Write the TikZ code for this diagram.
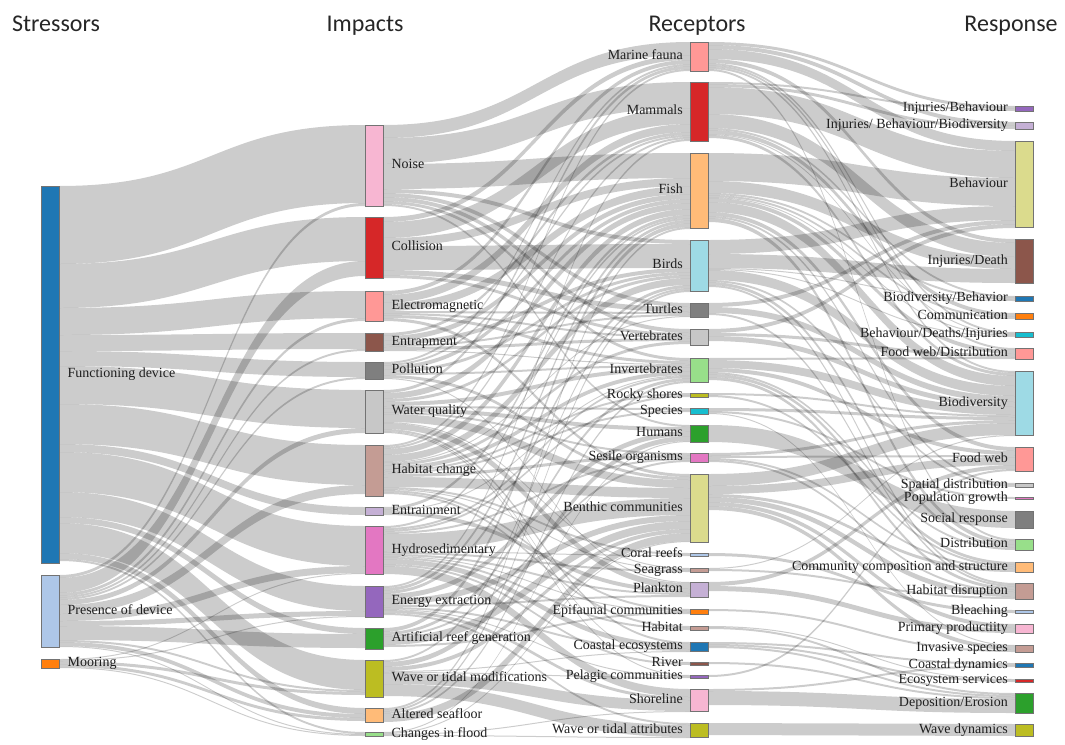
\documentclass[tikz,border=0pt]{standalone}
\usepackage{fontspec}
\setmainfont{Liberation Serif}
\newfontfamily\headfont{Carlito}
\pgfdeclarelayer{bg}
\pgfsetlayers{bg,main}
% category20 palette
\definecolor{cBlue}{HTML}{1F77B4}
\definecolor{cBlueL}{HTML}{AEC7E8}
\definecolor{cOrange}{HTML}{FF7F0E}
\definecolor{cOrangeL}{HTML}{FFBB78}
\definecolor{cGreen}{HTML}{2CA02C}
\definecolor{cGreenL}{HTML}{98DF8A}
\definecolor{cRed}{HTML}{D62728}
\definecolor{cRedL}{HTML}{FF9896}
\definecolor{cPurple}{HTML}{9467BD}
\definecolor{cPurpleL}{HTML}{C5B0D5}
\definecolor{cBrown}{HTML}{8C564B}
\definecolor{cBrownL}{HTML}{C49C94}
\definecolor{cPink}{HTML}{E377C2}
\definecolor{cPinkL}{HTML}{F7B6D2}
\definecolor{cGray}{HTML}{7F7F7F}
\definecolor{cGrayL}{HTML}{C7C7C7}
\definecolor{cOlive}{HTML}{BCBD22}
\definecolor{cOliveL}{HTML}{DBDB8D}
\definecolor{cCyan}{HTML}{17BECF}
\definecolor{cCyanL}{HTML}{9EDAE5}
\tikzset{
  box/.style={draw=black!55, line width=0.4pt, fill=#1, minimum width=18pt,
    inner sep=0pt, anchor=north west},
  lab/.style={font=\fontsize{14}{16}\selectfont, text=black!88, inner sep=0pt,
    text height=0.75em, text depth=0.1em},
  rlab/.style={label={[lab, xshift=8pt]right:#1}},
  llab/.style={label={[lab, xshift=-7pt]left:#1}},
  head/.style={font=\headfont\fontsize{24}{28}\selectfont, text=black!85, anchor=base},
  link/.style={fill=black, fill opacity=0.2},
}
% band from #1 to #2, #3 px wide, stacked on both ends
\newcommand\flow[3]{%
  \ifcsname so@#1\endcsname\else\expandafter\xdef\csname so@#1\endcsname{0}\fi
  \ifcsname si@#2\endcsname\else\expandafter\xdef\csname si@#2\endcsname{0}\fi
  \edef\fa{\csname so@#1\endcsname}\edef\fb{\csname si@#2\endcsname}%
  \pgfmathsetmacro\fc{\fa+#3}\pgfmathsetmacro\fd{\fb+#3}%
  \fill[link] ([yshift=-\fa pt]#1.north east)
    .. controls +(153pt,0) and +(-153pt,0) .. ([yshift=-\fb pt]#2.north west)
    -- ([yshift=-\fd pt]#2.north west)
    .. controls +(-153pt,0) and +(153pt,0) .. ([yshift=-\fc pt]#1.north east) -- cycle;
  \expandafter\xdef\csname so@#1\endcsname{\fc}%
  \expandafter\xdef\csname si@#2\endcsname{\fd}%
}
\begin{document}
\begin{tikzpicture}[x=1pt, y=-1pt]
\useasboundingbox (0,0) rectangle (1065,744);
% column heads
\node[head] (hS) at (56,31) {Stressors};
\node[head] (hI) at (365,31) {Impacts};
\node[head] (hR) at (697,31) {Receptors};
\node[head] (hP) at (1011,31) {Response};
% stressors
\node[box=cBlue, minimum height=377pt, rlab=Functioning device] (FD) at (41,186) {};
\node[box=cBlueL, minimum height=72pt, rlab=Presence of device] (PD) at (41,575) {};
\node[box=cOrange, minimum height=9pt, rlab=Mooring] (Moor) at (41,659) {};
% impacts
\node[box=cPinkL, minimum height=81pt, rlab=Noise] (Noise) at (365,125) {};
\node[box=cRed, minimum height=61pt, rlab=Collision] (Coll) at (365,217) {};
\node[box=cRedL, minimum height=30pt, rlab=Electromagnetic] (EM) at (365,291) {};
\node[box=cBrown, minimum height=18pt, rlab=Entrapment] (Entrap) at (365,333) {};
\node[box=cGray, minimum height=17pt, rlab=Pollution] (Poll) at (365,362) {};
\node[box=cGrayL, minimum height=43pt, rlab=Water quality] (WQ) at (365,390) {};
\node[box=cBrownL, minimum height=51pt, rlab=Habitat change] (HC) at (365,445) {};
\node[box=cPurpleL, minimum height=8pt, rlab=Entrainment] (Entrain) at (365,507) {};
\node[box=cPink, minimum height=48pt, rlab=Hydrosedimentary] (Hydro) at (365,526) {};
\node[box=cPurple, minimum height=31pt, rlab=Energy extraction] (Energy) at (365,586) {};
\node[box=cGreen, minimum height=21pt, rlab=Artificial reef generation] (Reef) at (365,628) {};
\node[box=cOlive, minimum height=37pt, rlab=Wave or tidal modifications] (WMod) at (365,660) {};
\node[box=cOrangeL, minimum height=14pt, rlab=Altered seafloor] (Seafl) at (365,708) {};
\node[box=cGreenL, minimum height=4pt, rlab=Changes in flood] (Flood) at (365,732) {};
% receptors
\node[box=cRedL, minimum height=29pt, llab=Marine fauna] (MF) at (690,42) {};
\node[box=cRed, minimum height=59pt, llab=Mammals] (Mam) at (690,82) {};
\node[box=cOrangeL, minimum height=75pt, llab=Fish] (Fish) at (690,153) {};
\node[box=cCyanL, minimum height=51pt, llab=Birds] (Birds) at (690,240) {};
\node[box=cGray, minimum height=14pt, llab=Turtles] (Turt) at (690,303) {};
\node[box=cGrayL, minimum height=16pt, llab=Vertebrates] (Vert) at (690,329) {};
\node[box=cGreenL, minimum height=24pt, llab=Invertebrates] (Inv) at (690,358) {};
\node[box=cOlive, minimum height=4pt, llab=Rocky shores] (Rocky) at (690,393) {};
\node[box=cCyan, minimum height=6pt, llab=Species] (Spec) at (690,408) {};
\node[box=cGreen, minimum height=17pt, llab=Humans] (Hum) at (690,425) {};
\node[box=cPink, minimum height=9pt, llab=Sesile organisms] (Ses) at (690,453) {};
\node[box=cOliveL, minimum height=68pt, llab=Benthic communities] (Benth) at (690,474) {};
\node[box=cBlueL, minimum height=3pt, llab=Coral reefs] (Coral) at (690,553) {};
\node[box=cBrownL, minimum height=4pt, llab=Seagrass] (Seag) at (690,568) {};
\node[box=cPurpleL, minimum height=15pt, llab=Plankton] (Plank) at (690,582) {};
\node[box=cOrange, minimum height=5pt, llab=Epifaunal communities] (Epif) at (690,609) {};
\node[box=cBrownL, minimum height=4pt, llab=Habitat] (Hab) at (690,626) {};
\node[box=cBlue, minimum height=9pt, llab=Coastal ecosystems] (CEco) at (690,642) {};
\node[box=cBrown, minimum height=3pt, llab=River] (River) at (690,662) {};
\node[box=cPurple, minimum height=3pt, llab=Pelagic communities] (Pel) at (690,675) {};
\node[box=cPinkL, minimum height=22pt, llab=Shoreline] (Shore) at (690,689) {};
\node[box=cOlive, minimum height=14pt, llab=Wave or tidal attributes] (WAttr) at (690,723) {};
% responses
\node[box=cPurple, minimum height=5pt, llab=Injuries/Behaviour] (IB) at (1015,106) {};
\node[box=cPurpleL, minimum height=7pt, llab=Injuries/ Behaviour/Biodiversity] (IBB) at (1015,122) {};
\node[box=cOliveL, minimum height=86pt, llab=Behaviour] (Beh) at (1015,141) {};
\node[box=cBrown, minimum height=44pt, llab=Injuries/Death] (ID) at (1015,239) {};
\node[box=cBlue, minimum height=5pt, llab=Biodiversity/Behavior] (BB) at (1015,296) {};
\node[box=cOrange, minimum height=6pt, llab=Communication] (Comm) at (1015,313) {};
\node[box=cCyan, minimum height=5pt, llab=Behaviour/Deaths/Injuries] (BDI) at (1015,332) {};
\node[box=cRedL, minimum height=11pt, llab=Food web/Distribution] (FWD) at (1015,348) {};
\node[box=cCyanL, minimum height=64pt, llab=Biodiversity] (Bio) at (1015,371) {};
\node[box=cRedL, minimum height=24pt, llab=Food web] (FW) at (1015,447) {};
\node[box=cGrayL, minimum height=4pt, llab=Spatial distribution] (Spat) at (1015,483) {};
\node[box=cPink, minimum height=2pt, llab=Population growth] (Pop) at (1015,497) {};
\node[box=cGray, minimum height=17pt, llab=Social response] (Soc) at (1015,511) {};
\node[box=cGreenL, minimum height=11pt, llab=Distribution] (Dist) at (1015,539) {};
\node[box=cOrangeL, minimum height=10pt, llab=Community composition and structure] (CCS) at (1015,562) {};
\node[box=cBrownL, minimum height=16pt, llab=Habitat disruption] (HDis) at (1015,583) {};
\node[box=cBlueL, minimum height=3pt, llab=Bleaching] (Bleach) at (1015,610) {};
\node[box=cPinkL, minimum height=9pt, llab=Primary productiity] (PP) at (1015,624) {};
\node[box=cBrownL, minimum height=7pt, llab=Invasive species] (Inva) at (1015,645) {};
\node[box=cBlue, minimum height=4pt, llab=Coastal dynamics] (CDyn) at (1015,663) {};
\node[box=cRed, minimum height=3pt, llab=Ecosystem services] (ESer) at (1015,679) {};
\node[box=cGreen, minimum height=20pt, llab=Deposition/Erosion] (DE) at (1015,693) {};
\node[box=cOlive, minimum height=12pt, llab=Wave dynamics] (WDyn) at (1015,724) {};
\begin{pgfonlayer}{bg}
% stressors -> impacts
\foreach \s/\t/\w in {FD/Noise/78, FD/Coll/44, FD/EM/27, FD/Entrap/16, FD/Poll/15,
  FD/WQ/38, FD/HC/40, FD/Entrain/8, FD/Hydro/40, FD/Energy/25, FD/Reef/6, FD/WMod/30,
  FD/Seafl/6, FD/Flood/2,
  PD/Noise/3, PD/Coll/15, PD/EM/3, PD/Entrap/2, PD/Poll/2, PD/WQ/5, PD/HC/9, PD/Hydro/7,
  PD/Energy/5, PD/Reef/14, PD/WMod/2, PD/Seafl/4, PD/Flood/1,
  Moor/Hydro/1, Moor/Energy/1, Moor/WMod/3, Moor/Seafl/3, Moor/Flood/1}
  {\flow{\s}{\t}{\w}}
% impacts -> receptors
\foreach \s/\t/\w in {Noise/MF/13, Noise/Mam/26, Noise/Fish/25, Noise/Birds/4, Noise/Turt/4,
  Noise/Vert/4, Noise/Inv/3, Noise/Hum/2,
  Coll/MF/5, Coll/Mam/16, Coll/Fish/8, Coll/Birds/24, Coll/Turt/5, Coll/Vert/3,
  EM/MF/4, EM/Mam/8, EM/Fish/8, EM/Turt/2, EM/Vert/2, EM/Inv/3, EM/Benth/3,
  Entrap/Mam/3, Entrap/Fish/5, Entrap/Birds/4, Entrap/Turt/2, Entrap/Vert/3, Entrap/Inv/1,
  Poll/MF/2, Poll/Mam/2, Poll/Fish/4, Poll/Birds/3, Poll/Inv/2, Poll/Benth/3, Poll/Plank/1,
  WQ/MF/3, WQ/Fish/6, WQ/Birds/3, WQ/Inv/4, WQ/Spec/2, WQ/Hum/4, WQ/Ses/2, WQ/Benth/8,
  WQ/Seag/1, WQ/Plank/6, WQ/CEco/2, WQ/River/1, WQ/Pel/1,
  HC/MF/2, HC/Mam/2, HC/Fish/6, HC/Birds/7, HC/Turt/1, HC/Vert/3, HC/Inv/4, HC/Rocky/2,
  HC/Spec/2, HC/Ses/3, HC/Benth/10, HC/Coral/2, HC/Seag/1, HC/Epif/2, HC/Hab/2,
  Entrain/Fish/3, Entrain/Inv/1, Entrain/Plank/4,
  Hydro/Fish/2, Hydro/Inv/2, Hydro/Rocky/2, Hydro/Ses/2, Hydro/Benth/17, Hydro/Coral/1,
  Hydro/Seag/2, Hydro/Plank/2, Hydro/Epif/1, Hydro/Hab/2, Hydro/CEco/5, Hydro/River/2,
  Hydro/Shore/8,
  Energy/Mam/2, Energy/Fish/3, Energy/Birds/3, Energy/Hum/5, Energy/Benth/6, Energy/Plank/2,
  Energy/CEco/2, Energy/Pel/1, Energy/Shore/3, Energy/WAttr/2,
  Reef/Fish/4, Reef/Inv/3, Reef/Ses/2, Reef/Benth/8, Reef/Epif/2,
  WMod/Birds/2, WMod/Hum/5, WMod/Benth/4, WMod/CEco/1, WMod/Pel/1, WMod/Shore/11, WMod/WAttr/12,
  Seafl/Fish/2, Seafl/Birds/2, Seafl/Inv/2, Seafl/Benth/8,
  Flood/Hum/1, Flood/Benth/1, Flood/Shore/1, Flood/WAttr/1}
  {\flow{\s}{\t}{\w}}
% receptors -> responses
\foreach \s/\t/\w in {MF/IB/3, MF/IBB/4, MF/Beh/10, MF/ID/4, MF/BDI/2, MF/FWD/2, MF/Bio/2, MF/Dist/2,
  Mam/IB/2, Mam/IBB/3, Mam/Beh/27, Mam/ID/14, Mam/BB/2, Mam/Comm/4, Mam/BDI/1, Mam/Bio/3,
  Fish/Beh/28, Fish/ID/12, Fish/BB/2, Fish/Comm/2, Fish/BDI/1, Fish/FWD/4, Fish/Bio/10,
  Fish/FW/4, Fish/Spat/2, Fish/Dist/4,
  Birds/Beh/14, Birds/ID/14, Birds/BB/1, Birds/BDI/1, Birds/Bio/10, Birds/Spat/2,
  Birds/Dist/3, Birds/HDis/2,
  Turt/Beh/4, Turt/Bio/6, Turt/HDis/2,
  Vert/Beh/4, Vert/FWD/3, Vert/Bio/5,
  Inv/FWD/2, Inv/Bio/8, Inv/FW/4, Inv/Dist/2, Inv/CCS/3, Inv/HDis/3,
  Rocky/Bio/2, Rocky/CCS/2,
  Spec/Bio/3, Spec/Pop/2, Spec/Inva/1,
  Hum/Soc/17,
  Ses/Bio/3, Ses/FW/2, Ses/CCS/2, Ses/HDis/2,
  Benth/Bio/12, Benth/FW/8, Benth/CCS/3, Benth/HDis/5, Benth/PP/4, Benth/Inva/4,
  Coral/Bleach/3, Seag/Bio/1, Seag/HDis/2, Plank/FW/4, Plank/PP/5, Epif/Inva/2,
  Hab/ESer/1, Hab/DE/2, CEco/CDyn/2, CEco/ESer/2, CEco/DE/2, River/DE/2, Pel/FW/2,
  Shore/CDyn/2, Shore/DE/14, WAttr/WDyn/12}
  {\flow{\s}{\t}{\w}}
\end{pgfonlayer}
\end{tikzpicture}
\end{document}
